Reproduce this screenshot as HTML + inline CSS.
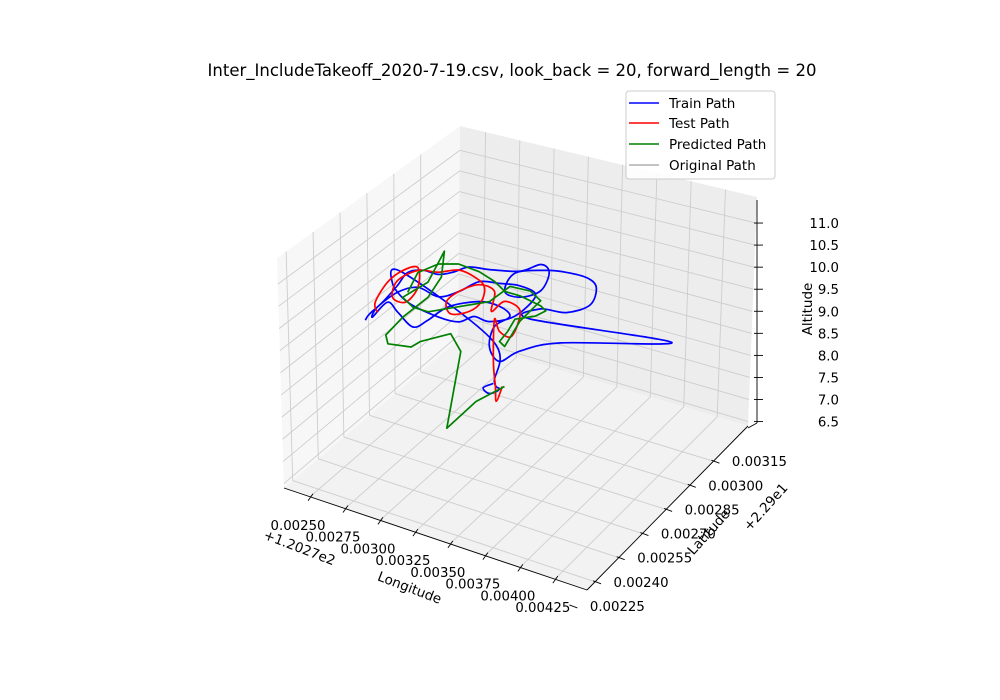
<!DOCTYPE html>
<html><head><meta charset="utf-8"><style>
body{margin:0;background:#fff;}
svg{display:block;font-family:"DejaVu Sans","Liberation Sans",sans-serif;}
</style></head><body>
<svg id="chart" width="1000" height="700" viewBox="0 0 1000 700" xmlns="http://www.w3.org/2000/svg">
<rect width="1000" height="700" fill="#fff"/>
<text x="512" y="76" font-size="16.5" text-anchor="middle" fill="#000">Inter_IncludeTakeoff_2020-7-19.csv, look_back = 20, forward_length = 20</text>
<g id="panes"></g><g id="grid"></g><g id="axes"></g><g id="series"></g>
<g>
<rect x="626" y="91" width="149" height="88" rx="3" fill="#fff" fill-opacity="0.85" stroke="#ccc"/>
<line x1="629" y1="103" x2="659" y2="103" stroke="#0000ff" stroke-width="1.5"/>
<text x="669" y="108" font-size="13.5">Train Path</text>
<line x1="629" y1="123" x2="659" y2="123" stroke="#ff0000" stroke-width="1.5"/>
<text x="669" y="128" font-size="13.5">Test Path</text>
<line x1="629" y1="144" x2="659" y2="144" stroke="#008000" stroke-width="1.5"/>
<text x="669" y="149" font-size="13.5">Predicted Path</text>
<line x1="629" y1="165" x2="659" y2="165" stroke="#b0b0b0" stroke-width="1.5"/>
<text x="669" y="170" font-size="13.5">Original Path</text>
</g>
</svg>
<script>
const lonTicks=[0.00250,0.00275,0.00300,0.00325,0.00350,0.00375,0.00400,0.00425];
const lonTickLabels=["0.00250","0.00275","0.00300","0.00325","0.00350","0.00375","0.00400","0.00425"];
const latTicks=[0.00225,0.00240,0.00255,0.00270,0.00285,0.00300,0.00315];
const latTickLabels=["0.00225","0.00240","0.00255","0.00270","0.00285","0.00300","0.00315"];
const altTicks=[6.5,7.0,7.5,8.0,8.5,9.0,9.5,10.0,10.5,11.0];
const altTickLabels=["6.5","7.0","7.5","8.0","8.5","9.0","9.5","10.0","10.5","11.0"];
const trainLon=[.002292,.002321,.002417,.002527,.002600,.002710,.002821,.002931,.003041,.003188,.003408,.003555,.003614,.003555,.003408,.003298,.003371,.003592,.003738,.003885,.003951,.003907,.003738,.003555,.003481,.004495,.003702,.003408,.003261,.003188,.003224,.003335,.003261,.003114,.002894,.002747,.002637,.002527,.002454,.002343,.002380,.002527,.002674,.002821,.002967,.003114,.003261,.003408,.003518,.003371,.003188,.003078,.002967,.002821,.002600,.002490,.002564,.003217,.003224,.003261,.003188,.003144,.003217];
const trainAlt=[8.60,8.77,9.14,9.64,10.01,10.17,10.18,10.34,10.56,10.64,10.81,11.10,10.97,10.50,10.21,10.24,10.73,11.00,11.09,11.10,10.94,10.50,10.17,10.08,9.78,10.20,9.44,8.97,8.59,8.86,9.36,9.70,9.86,9.83,9.50,9.05,8.78,9.02,9.18,8.72,8.99,9.48,9.74,9.66,9.92,10.29,10.39,10.47,10.35,9.74,9.44,9.45,9.22,9.19,9.32,9.67,9.98,9.01,8.09,7.95,7.78,7.87,8.04];
const testLon=[.002380,.002365,.002454,.002564,.002674,.002674,.002586,.002490,.002527,.002674,.002821,.002967,.003078,.003151,.003129,.003041,.002909,.002879,.002967,.003114,.003224,.003202,.003298,.003408,.003349,.003261,.003224,.003217,.003232,.003239,.003283];
const testAlt=[8.87,9.09,9.64,10.02,10.20,9.74,9.31,9.33,9.75,10.13,10.23,10.42,10.37,10.21,9.84,9.53,9.35,9.60,9.92,10.22,10.17,9.69,10.01,9.89,9.26,9.28,9.52,8.55,7.99,7.65,8.04];
const predLon=[.002600,.002674,.002821,.002967,.003114,.003224,.003298,.003408,.003555,.003592,.003518,.003371,.003320,.003261,.003298,.003408,.003555,.003481,.003335,.003188,.002967,.002747,.002637,.002564,.002747,.002865,.002843,.002747,.002564,.002439,.002454,.002622,.002688,.002909,.002982,.002879,.003092,.003298];
const predAlt=[9.55,10.08,10.42,10.56,10.52,10.40,10.24,10.24,10.15,10.07,9.88,9.67,9.34,9.05,8.97,9.66,10.27,10.42,10.39,9.90,9.57,9.24,9.24,9.40,9.93,10.76,10.14,9.58,8.94,8.40,8.21,8.30,8.49,8.89,8.55,6.67,7.50,8.05];
const pathLat=0.00285;

const LON0=0.002314,LON1=0.00448,LAT0=0.002349,LAT1=0.003369,Z0=6.40,Z1=11.59;
const A=[284,488],B=[587,590],C=[748,426],D=[458,340];
const At=[277,258],Bt=[588,361],Ct=[757,197],Dt=[460,126];
function bil(P,Q,R,S,u,v){return [P[0]*(1-u)*(1-v)+Q[0]*u*(1-v)+R[0]*u*v+S[0]*(1-u)*v,P[1]*(1-u)*(1-v)+Q[1]*u*(1-v)+R[1]*u*v+S[1]*(1-u)*v];}
function proj(lon,lat,alt){const u=(lon-LON0)/(LON1-LON0),v=(lat-LAT0)/(LAT1-LAT0),w=(alt-Z0)/(Z1-Z0);
 const f=bil(A,B,C,D,u,v),t=bil(At,Bt,Ct,Dt,u,v);return [f[0]+(t[0]-f[0])*w,f[1]+(t[1]-f[1])*w];}
const NS="http://www.w3.org/2000/svg";
function mk(tag,attrs,parent){const e=document.createElementNS(NS,tag);for(const k in attrs)e.setAttribute(k,attrs[k]);parent.appendChild(e);return e;}
const pts=a=>a.map(p=>p[0].toFixed(1)+","+p[1].toFixed(1)).join(" ");
const panes=document.getElementById('panes'),grid=document.getElementById('grid'),axes=document.getElementById('axes'),series=document.getElementById('series');
let e;
e=mk('polygon',{points:pts([A,D,Dt,At]),fill:'#f7f7f7'},panes);


e=mk('polygon',{points:pts([D,C,Ct,Dt]),fill:'#ededed'},panes);


e=mk('polygon',{points:pts([A,B,C,D]),fill:'#f2f2f2'},panes);


const gs={stroke:'#cdcdcd','stroke-width':0.9,fill:'none'};
function gl(p,q,name){const l=mk('line',Object.assign({x1:p[0],y1:p[1],x2:q[0],y2:q[1]},gs),grid);

}
lonTicks.forEach(t=>{gl(proj(t,LAT0,Z0),proj(t,LAT1,Z0),'floor-grid-lon');gl(proj(t,LAT1,Z0),proj(t,LAT1,Z1),'back-grid-lon');});
latTicks.forEach(t=>{if(t<LAT0)return;gl(proj(LON0,t,Z0),proj(LON1,t,Z0),'floor-grid-lat');gl(proj(LON0,t,Z0),proj(LON0,t,Z1),'left-grid-lat');});
altTicks.forEach(t=>{gl(proj(LON0,LAT0,t),proj(LON0,LAT1,t),'left-grid-alt');gl(proj(LON0,LAT1,t),proj(LON1,LAT1,t),'back-grid-alt');});
function al(p,q,name){const l=mk('line',{x1:p[0],y1:p[1],x2:q[0],y2:q[1],stroke:'#000','stroke-width':0.9},axes);

}
al(A,B,'x-axis-line');al(B,C,'y-axis-line');
const zx=757;al([zx,200],[zx,423],'z-axis-line');al([zx,423],[748,428],'z-axis-foot');
function tx(x,y,s,size,anchor,rot,name){const t=mk('text',{x:x,y:y,'font-size':size,'text-anchor':anchor,fill:'#000'},axes);
if(rot)t.setAttribute('transform','rotate('+rot+' '+x+' '+y+')');t.textContent=s;

}
lonTicks.forEach((t,i)=>{const p=proj(t,LAT0,Z0);al([p[0]-2,p[1]+4],[p[0]+3,p[1]-3],'x-tick');
 tx(p[0]-12,p[1]+33,lonTickLabels[i],13.3,'middle',0,'x-tick-label');});
latTicks.forEach((t,i)=>{const p=proj(LON1,t,Z0);al([p[0]-2,p[1]-1],[p[0]+6,p[1]+2],'y-tick');tx(p[0]+46,p[1]+5,latTickLabels[i],13.3,'middle',0,'y-tick-label');});
altTicks.forEach((t,i)=>{const y=proj(LON1,LAT1,t)[1];al([zx-3,y],[zx+6,y],'z-tick');tx(839,y+5,altTickLabels[i],13.3,'end',0,'z-tick-label');});
tx(408,592,'Longitude',13.5,'middle',21,'x-axis-title');
tx(298,552,'+1.2027e2',13.5,'middle',21,'x-offset-text');
tx(712,535,'Latitude',13.5,'middle',-48,'y-axis-title');
tx(769,510,'+2.29e1',13.5,'middle',-48,'y-offset-text');
tx(812,309,'Altitude',13.5,'middle',-90,'z-axis-title');
function smooth(p){let d='M'+p[0][0].toFixed(1)+','+p[0][1].toFixed(1);
 for(let i=0;i<p.length-1;i++){const p0=p[i-1]||p[i],p1=p[i],p2=p[i+1],p3=p[i+2]||p2;
 d+=' C'+(p1[0]+(p2[0]-p0[0])/6).toFixed(1)+','+(p1[1]+(p2[1]-p0[1])/6).toFixed(1)+' '+(p2[0]-(p3[0]-p1[0])/6).toFixed(1)+','+(p2[1]-(p3[1]-p1[1])/6).toFixed(1)+' '+p2[0].toFixed(1)+','+p2[1].toFixed(1);}
 return d;}
function line(lons,alts,color,sm,name){const p=lons.map((l,i)=>proj(l,pathLat,alts[i]));
 const d=sm?smooth(p):'M'+p.map(q=>q[0].toFixed(1)+','+q[1].toFixed(1)).join(' L');
 const el=mk('path',{d:d,fill:'none',stroke:color,'stroke-width':1.7,'stroke-linejoin':'round'},series);
 
 }
line(trainLon,trainAlt,'#0000ff',true,'train-path');
line(testLon,testAlt,'#ff0000',true,'test-path');
line(predLon,predAlt,'#008000',false,'predicted-path');
</script>
</body></html>
